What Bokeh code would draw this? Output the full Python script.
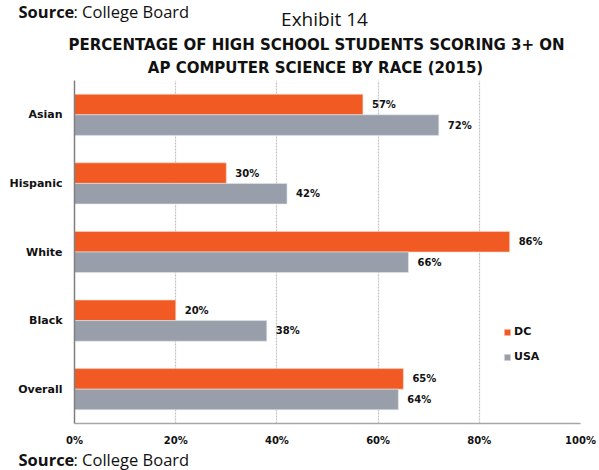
from bokeh.plotting import figure
from bokeh.layouts import column
from bokeh.models import FactorRange, FixedTicker, ColumnDataSource, Legend, LegendItem
from bokeh.transform import dodge
from bokeh.core.properties import value
from bokeh.embed import file_html
from bokeh.resources import INLINE

categories = ["Asian", "Hispanic", "White", "Black", "Overall"]
dc_values = [57, 30, 86, 20, 65]
usa_values = [72, 42, 66, 38, 64]
tick_values = [0, 20, 40, 60, 80, 100]
tick_labels = ["0%", "20%", "40%", "60%", "80%", "100%"]
series_names = ["DC", "USA"]

ORANGE = "#F15A22"
GRAY = "#989EAA"
FONT = "DejaVu Sans"
TXT = "#111111"

W = 599
TOP_H, MAIN_H, BOT_H = 80, 368, 22
FL, FR, FB = 74, 580, 345  # frame left/right (page px), frame bottom within main figure

# ---------- header (title texts) ----------
top = figure(width=W, height=TOP_H, output_backend="svg", toolbar_location=None,
             x_range=(0, W), y_range=(TOP_H, 0), x_axis_type=None, y_axis_type=None,
             min_border=0, outline_line_color=None, frame_align=False)
top.grid.visible = False
hdr = ColumnDataSource(dict(
    x=[18, 73, 324, 316, 315],
    y=[11, 11, 18, 44, 67],
    text=["Source", ": College Board", "Exhibit 14",
          "PERCENTAGE OF HIGH SCHOOL STUDENTS SCORING 3+ ON",
          "AP COMPUTER SCIENCE BY RACE (2015)"],
    font=["Open Sans", "Open Sans", "Open Sans", FONT, FONT],
    style=["bold", "normal", "normal", "bold", "bold"],
    size=["16.5px", "16.5px", "19px", "15px", "15px"],
    align=["left", "left", "center", "center", "center"],
))
top.text(x="x", y="y", text="text", source=hdr, text_font="font", text_font_style="style",
         text_font_size="size", text_align="align", text_baseline="middle", text_color=TXT)

# ---------- main chart ----------
source = ColumnDataSource(dict(
    cat=categories,
    dc=dc_values,
    usa=usa_values,
    dc_lbl=[f"{v}%" for v in dc_values],
    usa_lbl=[f"{v}%" for v in usa_values],
))

p = figure(width=W, height=MAIN_H, output_backend="svg", toolbar_location=None,
           y_range=FactorRange(factors=list(reversed(categories))),
           x_range=(0, 100),
           min_border_left=FL, min_border_right=W - FR, min_border_top=0,
           min_border_bottom=MAIN_H - FB, frame_align=False)
p.outline_line_color = None

r_dc = p.hbar(y=dodge("cat", 0.15, range=p.y_range), right="dc", left=0, height=0.3,
              source=source, fill_color=ORANGE, line_color="#F8D8CC", line_width=0.6)
r_usa = p.hbar(y=dodge("cat", -0.15, range=p.y_range), right="usa", left=0, height=0.3,
               source=source, fill_color=GRAY, line_color="#E4E6EA", line_width=0.6)

for col, lbl, off in (("dc", "dc_lbl", 0.15), ("usa", "usa_lbl", -0.15)):
    p.text(x=col, y=dodge("cat", off, range=p.y_range), text=lbl, source=source,
           x_offset=9, text_baseline="middle", text_align="left",
           text_font=value(FONT), text_font_style="bold", text_font_size="10px", text_color=TXT)

p.xaxis.ticker = FixedTicker(ticks=tick_values)
p.xaxis.major_label_overrides = {t: l for t, l in zip(tick_values, tick_labels)}
p.xaxis.major_tick_out = 0
p.xaxis.major_tick_in = 0
p.xaxis.minor_tick_out = 0
p.xaxis.minor_tick_in = 0
p.xaxis.major_tick_line_color = None
p.xaxis.minor_tick_line_color = None
p.xaxis.axis_line_color = "#A6A6A6"
p.xaxis.axis_line_width = 1.5
p.xaxis.major_label_standoff = 11
p.xaxis.major_label_text_font = FONT
p.xaxis.major_label_text_font_style = "bold"
p.xaxis.major_label_text_font_size = "10px"
p.xaxis.major_label_text_color = TXT

p.yaxis.major_tick_out = 0
p.yaxis.major_tick_in = 0
p.yaxis.minor_tick_out = 0
p.yaxis.minor_tick_in = 0
p.yaxis.major_tick_line_color = None
p.yaxis.minor_tick_line_color = None
p.yaxis.axis_line_color = "#7F7F7F"
p.yaxis.axis_line_width = 1.5
p.yaxis.major_label_standoff = 12
p.yaxis.major_label_text_font = FONT
p.yaxis.major_label_text_font_style = "bold"
p.yaxis.major_label_text_font_size = "11px"
p.yaxis.major_label_text_color = TXT

p.ygrid.grid_line_color = None
p.xgrid.grid_line_color = "#C4C4C4"
p.xgrid.grid_line_dash = "2 1"
p.xgrid.grid_line_width = 1.2

legend = Legend(items=[LegendItem(label=series_names[0], renderers=[r_dc]),
                       LegendItem(label=series_names[1], renderers=[r_usa])],
                location=(429, 60), orientation="vertical",
                glyph_width=8, glyph_height=8, label_height=8, spacing=12,
                label_standoff=3, padding=0, margin=0,
                border_line_color=None, background_fill_alpha=0,
                label_text_font=FONT, label_text_font_style="bold",
                label_text_font_size="11px", label_text_color=TXT)
p.add_layout(legend, "center")

# ---------- footer (source) ----------
bot = figure(width=W, height=BOT_H, output_backend="svg", toolbar_location=None,
             x_range=(0, W), y_range=(BOT_H, 0), x_axis_type=None, y_axis_type=None,
             min_border=0, outline_line_color=None, frame_align=False)
bot.grid.visible = False
ftr = ColumnDataSource(dict(
    x=[18, 73], y=[11, 11], text=["Source", ": College Board"],
    style=["bold", "normal"],
))
bot.text(x="x", y="y", text="text", source=ftr, text_font=value("Open Sans"),
         text_font_style="style", text_font_size="16.5px", text_align="left",
         text_baseline="middle", text_color=TXT)

layout = column(top, p, bot, spacing=0)
open("out.html", "w").write(file_html(layout, INLINE))
